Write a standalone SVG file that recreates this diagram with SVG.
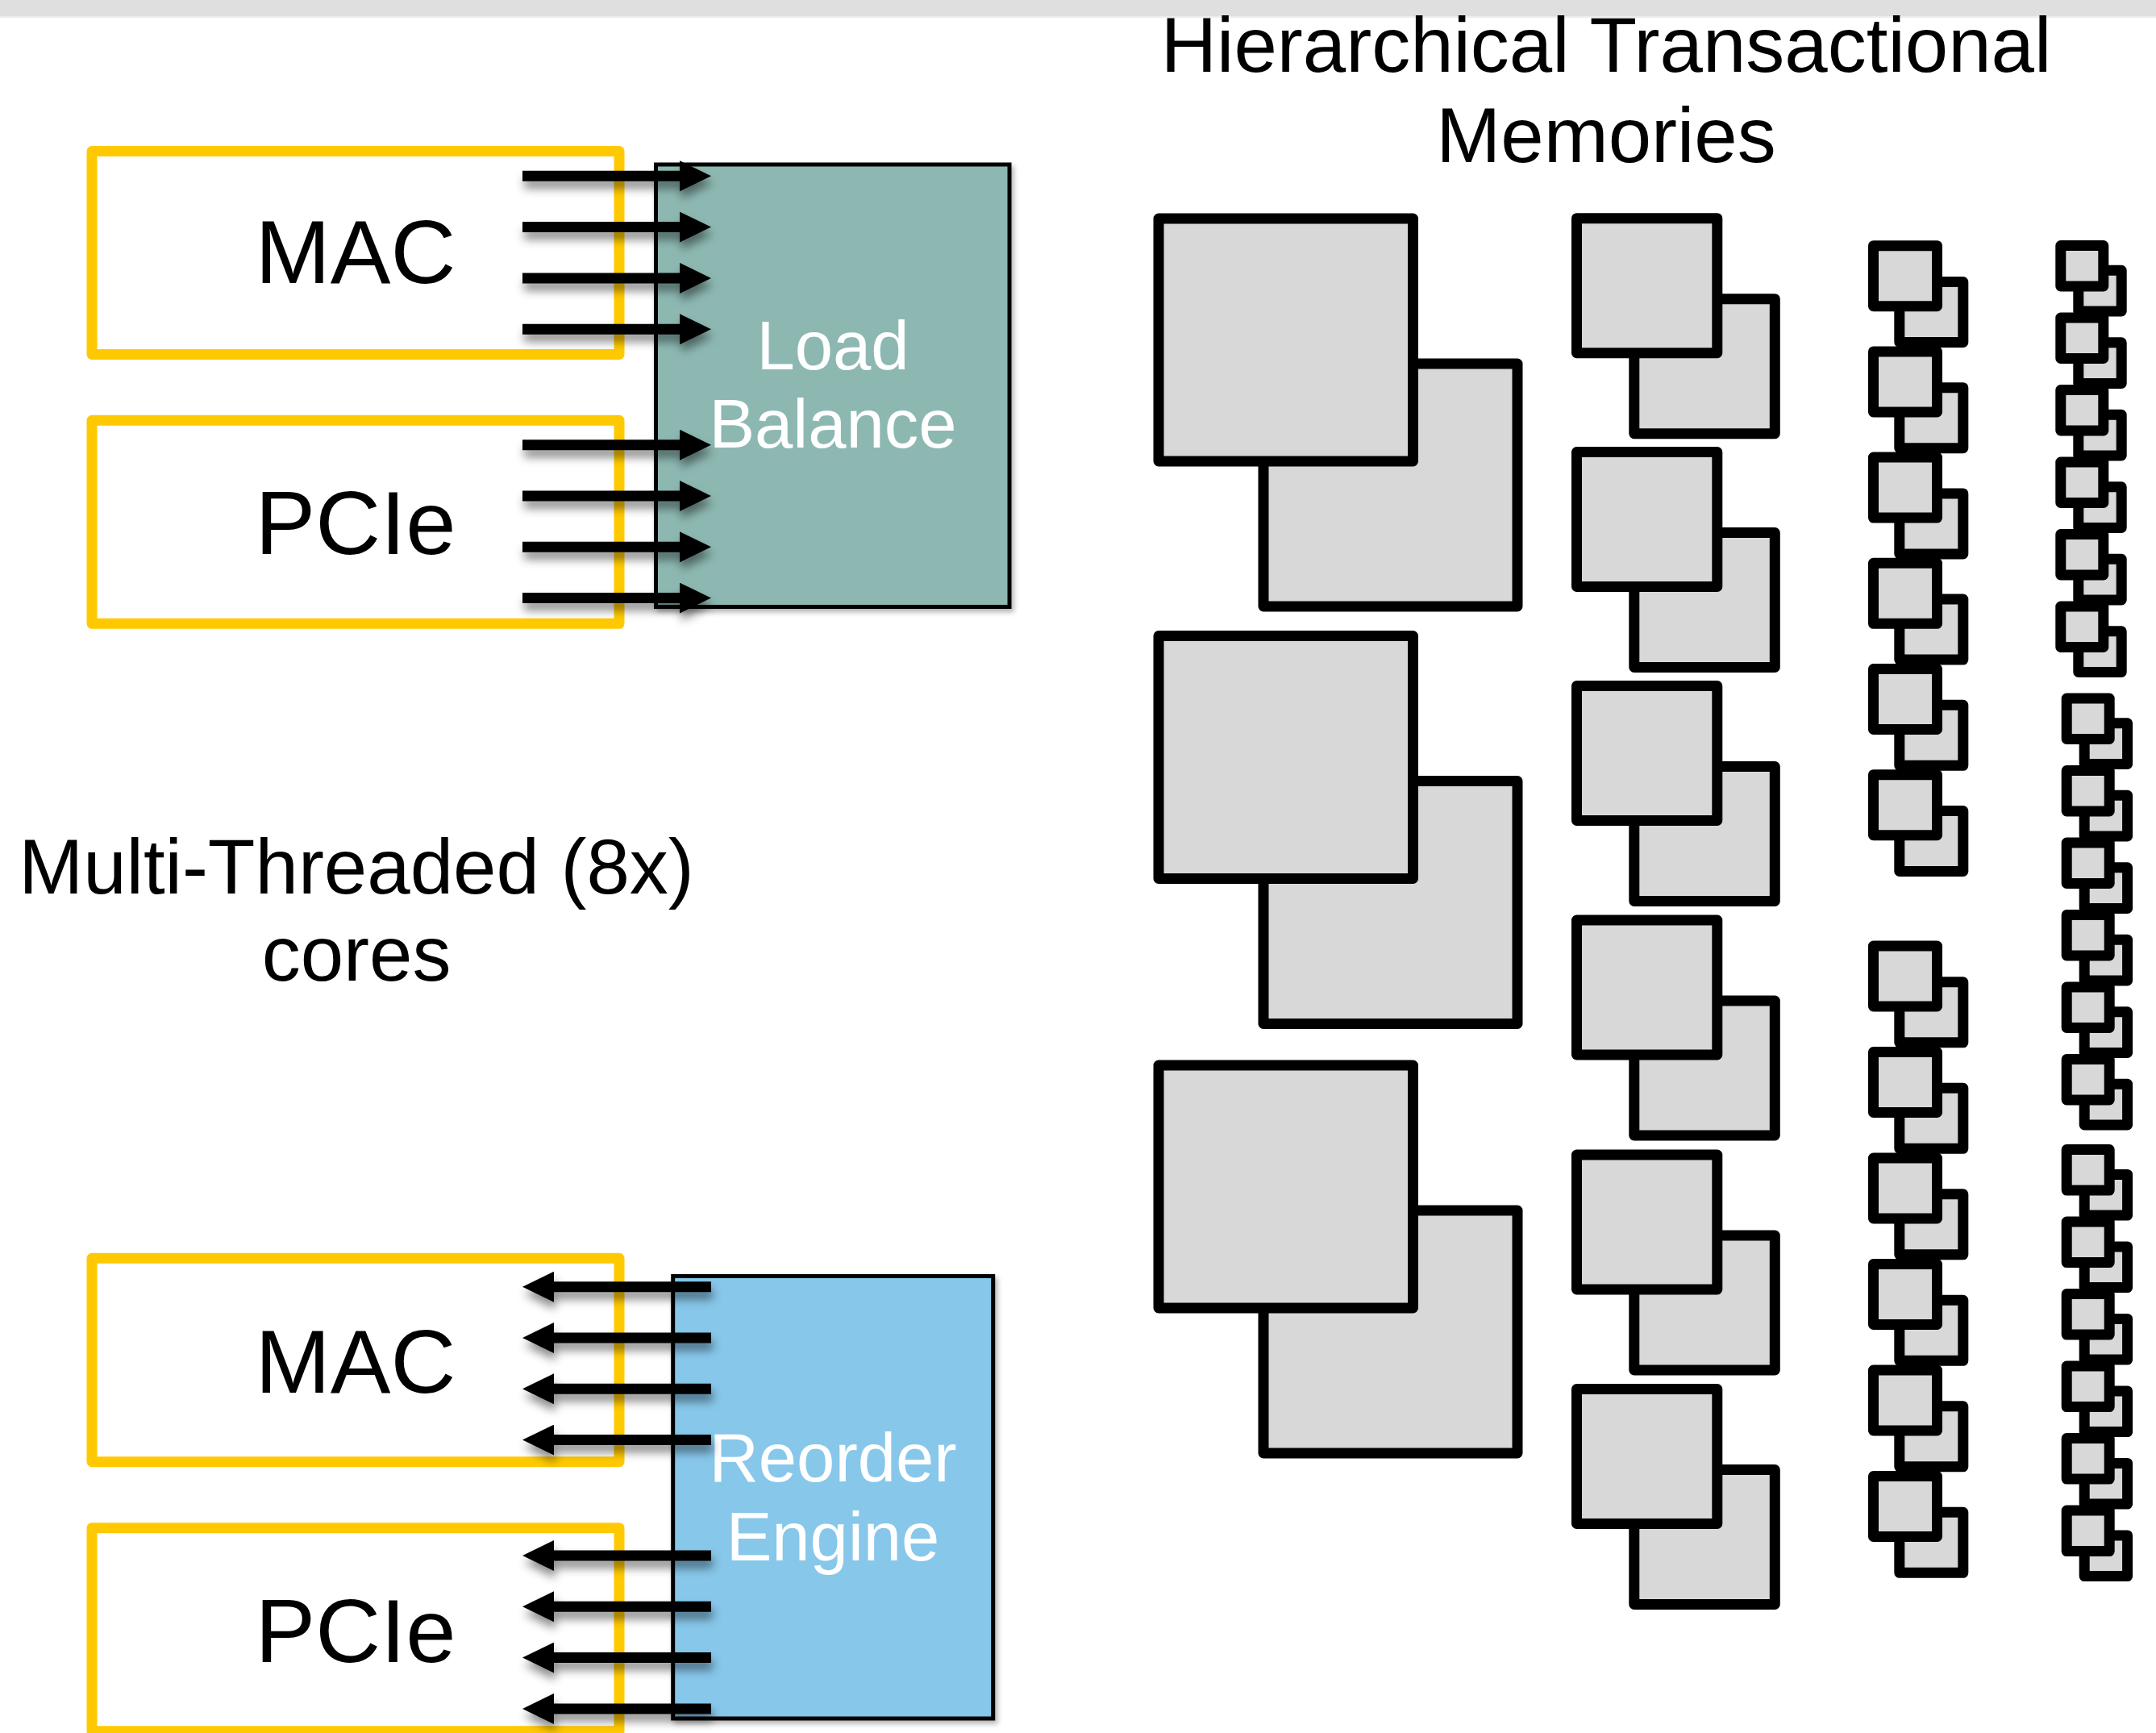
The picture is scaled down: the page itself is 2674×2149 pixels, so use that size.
<svg xmlns="http://www.w3.org/2000/svg" xmlns:xlink="http://www.w3.org/1999/xlink" width="2674" height="2149" viewBox="0 0 2674 2149">
  <style>
    .port { fill: #ffffff; stroke: #ffc901; stroke-width: 13; stroke-linejoin: round; }
    .port-label { font-family: "Liberation Sans", Arial, sans-serif; font-size: 112px; fill: #000000; text-anchor: middle; }
    .engine-label { font-family: "Liberation Sans", Arial, sans-serif; font-size: 85px; fill: #ffffff; text-anchor: middle; }
    .caption { font-family: "Liberation Sans", Arial, sans-serif; font-size: 96px; fill: #000000; text-anchor: middle; }
    .mem { fill: #d8d8d8; stroke: #000000; stroke-width: 13; stroke-linejoin: round; }
    .wire { stroke: #000000; stroke-width: 13; fill: none; marker-end: url(#head); }
  </style>
  <defs>
    <marker id="head" markerUnits="userSpaceOnUse" markerWidth="39" markerHeight="38" refX="0" refY="19" orient="auto" viewBox="0 0 39 38">
      <path d="M0,0 L39,19 L0,38 Z" fill="#000000"/>
    </marker>
    <filter id="soft" filterUnits="userSpaceOnUse" x="0" y="0" width="2674" height="2149">
      <feDropShadow dx="2" dy="9" stdDeviation="6" flood-color="#000000" flood-opacity="0.45"/>
    </filter>
    <filter id="boxShadow" x="-5%" y="-5%" width="115%" height="115%">
      <feDropShadow dx="3" dy="4" stdDeviation="3" flood-color="#000000" flood-opacity="0.3"/>
    </filter>
    <!-- memory bank pairs: front block at origin, back block offset down-right -->
    <g id="pairL1">
      <rect class="mem" x="130" y="180" width="315" height="301"/>
      <rect class="mem" x="0" y="0" width="315.5" height="301"/>
    </g>
    <g id="pairL2">
      <rect class="mem" x="71.3" y="100" width="174.5" height="167"/>
      <rect class="mem" x="0" y="0" width="174.3" height="167"/>
    </g>
    <g id="pairL3">
      <rect class="mem" x="32.3" y="44.8" width="79" height="75"/>
      <rect class="mem" x="0" y="0" width="79" height="75"/>
    </g>
    <g id="pairL4">
      <rect class="mem" x="22" y="30.8" width="53.4" height="50.7"/>
      <rect class="mem" x="0" y="0" width="53" height="50.5"/>
    </g>
  </defs>

  <rect x="0" y="0" width="2674" height="2149" fill="#ffffff"/>
  <rect x="0" y="0" width="2674" height="20" fill="#dfdfdf"/>
  <rect x="0" y="20" width="2674" height="2" fill="#ececec"/>

  <!-- ingress ports -->
  <g id="mac-in">
    <rect class="port" x="114" y="187.5" width="654" height="252"/>
    <text class="port-label" x="441" y="351">MAC</text>
  </g>
  <g id="pcie-in">
    <rect class="port" x="114" y="521.3" width="654" height="252"/>
    <text class="port-label" x="441" y="687">PCIe</text>
  </g>

  <!-- egress ports -->
  <g id="mac-out">
    <rect class="port" x="114" y="1560.3" width="654" height="252.4"/>
    <text class="port-label" x="441" y="1726.5">MAC</text>
  </g>
  <g id="pcie-out">
    <rect class="port" x="114" y="1894.7" width="654" height="252"/>
    <text class="port-label" x="441" y="2061">PCIe</text>
  </g>

  <!-- load balancer -->
  <g id="load-balance">
    <rect x="813.5" y="204" width="438.5" height="548.5" fill="#8db8b2" stroke="#000000" stroke-width="5" filter="url(#boxShadow)"/>
    <text class="engine-label" x="1033" y="458">Load</text>
    <text class="engine-label" x="1033" y="555">Balance</text>
  </g>

  <!-- reorder engine -->
  <g id="reorder-engine">
    <rect x="834.7" y="1582.5" width="397" height="548.5" fill="#87c7ea" stroke="#000000" stroke-width="5" filter="url(#boxShadow)"/>
    <text class="engine-label" x="1033" y="1836.5">Reorder</text>
    <text class="engine-label" x="1033" y="1935">Engine</text>
  </g>

  <!-- connectors: ports into load balancer, reorder engine out to ports -->
  <g id="connectors" filter="url(#soft)">
    <line class="wire" x1="648" y1="218.3" x2="843" y2="218.3"/>
    <line class="wire" x1="648" y1="281.6" x2="843" y2="281.6"/>
    <line class="wire" x1="648" y1="344.9" x2="843" y2="344.9"/>
    <line class="wire" x1="648" y1="408.2" x2="843" y2="408.2"/>
    <line class="wire" x1="648" y1="551.7" x2="843" y2="551.7"/>
    <line class="wire" x1="648" y1="615" x2="843" y2="615"/>
    <line class="wire" x1="648" y1="678.3" x2="843" y2="678.3"/>
    <line class="wire" x1="648" y1="741.6" x2="843" y2="741.6"/>

    <line class="wire" x1="882" y1="1595.7" x2="687" y2="1595.7"/>
    <line class="wire" x1="882" y1="1659" x2="687" y2="1659"/>
    <line class="wire" x1="882" y1="1722.3" x2="687" y2="1722.3"/>
    <line class="wire" x1="882" y1="1785.6" x2="687" y2="1785.6"/>
    <line class="wire" x1="882" y1="1929" x2="687" y2="1929"/>
    <line class="wire" x1="882" y1="1992.3" x2="687" y2="1992.3"/>
    <line class="wire" x1="882" y1="2055.6" x2="687" y2="2055.6"/>
    <line class="wire" x1="882" y1="2118.9" x2="687" y2="2118.9"/>
  </g>

  <!-- captions -->
  <g id="cores-caption">
    <text class="caption" x="442" y="1108">Multi-Threaded (8x)</text>
    <text class="caption" x="442" y="1216">cores</text>
  </g>
  <g id="memory-caption">
    <text class="caption" x="1992" y="89" font-size="95">Hierarchical Transactional</text>
    <text class="caption" x="1992" y="201" font-size="95">Memories</text>
  </g>

  <!-- level 1 memories -->
  <g id="mem-l1-1"><use xlink:href="#pairL1" x="1437" y="271"/></g>
  <g id="mem-l1-2"><use xlink:href="#pairL1" x="1437" y="788.5"/></g>
  <g id="mem-l1-3"><use xlink:href="#pairL1" x="1437" y="1321"/></g>

  <!-- level 2 memories -->
  <g id="mem-l2-1"><use xlink:href="#pairL2" x="1955.5" y="270.7"/></g>
  <g id="mem-l2-2"><use xlink:href="#pairL2" x="1955.5" y="560.5"/></g>
  <g id="mem-l2-3"><use xlink:href="#pairL2" x="1955.5" y="850.5"/></g>
  <g id="mem-l2-4"><use xlink:href="#pairL2" x="1955.5" y="1141"/></g>
  <g id="mem-l2-5"><use xlink:href="#pairL2" x="1955.5" y="1432"/></g>
  <g id="mem-l2-6"><use xlink:href="#pairL2" x="1955.5" y="1722.5"/></g>

  <!-- level 3 memories -->
  <g id="mem-l3-1"><use xlink:href="#pairL3" x="2323.5" y="304.7"/></g>
  <g id="mem-l3-2"><use xlink:href="#pairL3" x="2323.5" y="435.9"/></g>
  <g id="mem-l3-3"><use xlink:href="#pairL3" x="2323.5" y="567.1"/></g>
  <g id="mem-l3-4"><use xlink:href="#pairL3" x="2323.5" y="698.3"/></g>
  <g id="mem-l3-5"><use xlink:href="#pairL3" x="2323.5" y="829.5"/></g>
  <g id="mem-l3-6"><use xlink:href="#pairL3" x="2323.5" y="960.7"/></g>
  <g id="mem-l3-7"><use xlink:href="#pairL3" x="2323.5" y="1173"/></g>
  <g id="mem-l3-8"><use xlink:href="#pairL3" x="2323.5" y="1304.5"/></g>
  <g id="mem-l3-9"><use xlink:href="#pairL3" x="2323.5" y="1436"/></g>
  <g id="mem-l3-10"><use xlink:href="#pairL3" x="2323.5" y="1567.5"/></g>
  <g id="mem-l3-11"><use xlink:href="#pairL3" x="2323.5" y="1699"/></g>
  <g id="mem-l3-12"><use xlink:href="#pairL3" x="2323.5" y="1830.5"/></g>

  <!-- level 4 memories -->
  <g id="mem-l4-1"><use xlink:href="#pairL4" x="2555.8" y="304.5"/></g>
  <g id="mem-l4-2"><use xlink:href="#pairL4" x="2555.8" y="394"/></g>
  <g id="mem-l4-3"><use xlink:href="#pairL4" x="2555.8" y="483.5"/></g>
  <g id="mem-l4-4"><use xlink:href="#pairL4" x="2555.8" y="573"/></g>
  <g id="mem-l4-5"><use xlink:href="#pairL4" x="2555.8" y="662.5"/></g>
  <g id="mem-l4-6"><use xlink:href="#pairL4" x="2555.8" y="752"/></g>
  <g id="mem-l4-7"><use xlink:href="#pairL4" x="2563.2" y="866"/></g>
  <g id="mem-l4-8"><use xlink:href="#pairL4" x="2563.2" y="955.5"/></g>
  <g id="mem-l4-9"><use xlink:href="#pairL4" x="2563.2" y="1045"/></g>
  <g id="mem-l4-10"><use xlink:href="#pairL4" x="2563.2" y="1134.5"/></g>
  <g id="mem-l4-11"><use xlink:href="#pairL4" x="2563.2" y="1224"/></g>
  <g id="mem-l4-12"><use xlink:href="#pairL4" x="2563.2" y="1313.5"/></g>
  <g id="mem-l4-13"><use xlink:href="#pairL4" x="2563.2" y="1425.6"/></g>
  <g id="mem-l4-14"><use xlink:href="#pairL4" x="2563.2" y="1515.1"/></g>
  <g id="mem-l4-15"><use xlink:href="#pairL4" x="2563.2" y="1604.6"/></g>
  <g id="mem-l4-16"><use xlink:href="#pairL4" x="2563.2" y="1694.1"/></g>
  <g id="mem-l4-17"><use xlink:href="#pairL4" x="2563.2" y="1783.6"/></g>
  <g id="mem-l4-18"><use xlink:href="#pairL4" x="2563.2" y="1873.1"/></g>
</svg>
